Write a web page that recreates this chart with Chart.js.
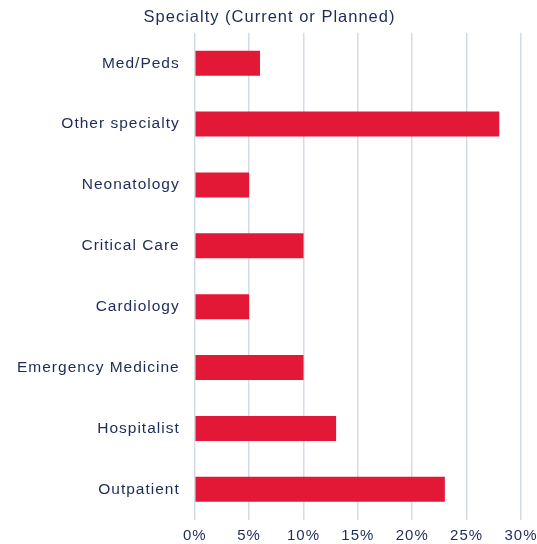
<!DOCTYPE html>
<html>
<head>
<meta charset="utf-8">
<script src="https://cdn.jsdelivr.net/npm/chart.js@4"></script>
<style>
    html, body { margin: 0; padding: 0; background: #fff; }
    .chart-box { width: 537px; height: 544px; position: relative; }
</style>
</head>
<body>
<div class="chart-box"><canvas id="specialty-chart"></canvas></div>
<script>
    const categories = ['Med/Peds', 'Other specialty', 'Neonatology', 'Critical Care', 'Cardiology', 'Emergency Medicine', 'Hospitalist', 'Outpatient'];
    const shares = [6, 28, 5, 10, 5, 10, 13, 23];
    const tickValues = [0, 5, 10, 15, 20, 25, 30];

    const navy = '#1c2b5a';
    const fontFamily = 'Liberation Sans, Arial, sans-serif';

    // the source text is set wide, so space the letters out a little
    const wideText = {
        id: 'wideText',
        beforeInit: function(chart) { chart.ctx.letterSpacing = '1px'; },
        beforeLayout: function(chart) { chart.ctx.letterSpacing = '1px'; },
        beforeDraw: function(chart) { chart.ctx.letterSpacing = '1px'; }
    };

    const ctx = document.getElementById('specialty-chart').getContext('2d');
    const specialtyChart = new Chart(ctx, {
        type: 'bar',
        data: {
            labels: categories,
            datasets: [{
                label: 'Specialty',
                data: shares,
                backgroundColor: '#e31837',
                borderWidth: 0,
                barPercentage: 0.82,
                categoryPercentage: 0.5
            }]
        },
        plugins: [wideText],
        options: {
            indexAxis: 'y',
            responsive: true,
            maintainAspectRatio: false,
            animation: false,
            layout: {
                padding: { left: 2, right: 0, top: 0, bottom: -10 }
            },
            plugins: {
                legend: { display: false },
                tooltip: { enabled: false },
                title: {
                    display: true,
                    text: 'Specialty (Current or Planned)',
                    color: navy,
                    font: { family: fontFamily, size: 16.5, weight: 'normal' },
                    padding: { top: 8, bottom: 5 }
                }
            },
            scales: {
                x: {
                    min: 0,
                    max: 30,
                    afterBuildTicks: function(axis) {
                        axis.ticks = tickValues.map(v => ({ value: v }));
                    },
                    afterFit: function(axis) {
                        axis.paddingRight = 16;
                    },
                    ticks: {
                        callback: v => v + '%',
                        color: navy,
                        padding: 8,
                        font: { family: fontFamily, size: 15, lineHeight: 1.1 }
                    },
                    grid: {
                        color: '#d3dbe3',
                        lineWidth: 1.5,
                        drawTicks: false
                    },
                    border: { display: false }
                },
                y: {
                    ticks: {
                        color: navy,
                        padding: 15,
                        font: { family: fontFamily, size: 15.5 }
                    },
                    grid: { display: false, drawTicks: false },
                    border: { display: false }
                }
            }
        }
    });
</script>
</body>
</html>
